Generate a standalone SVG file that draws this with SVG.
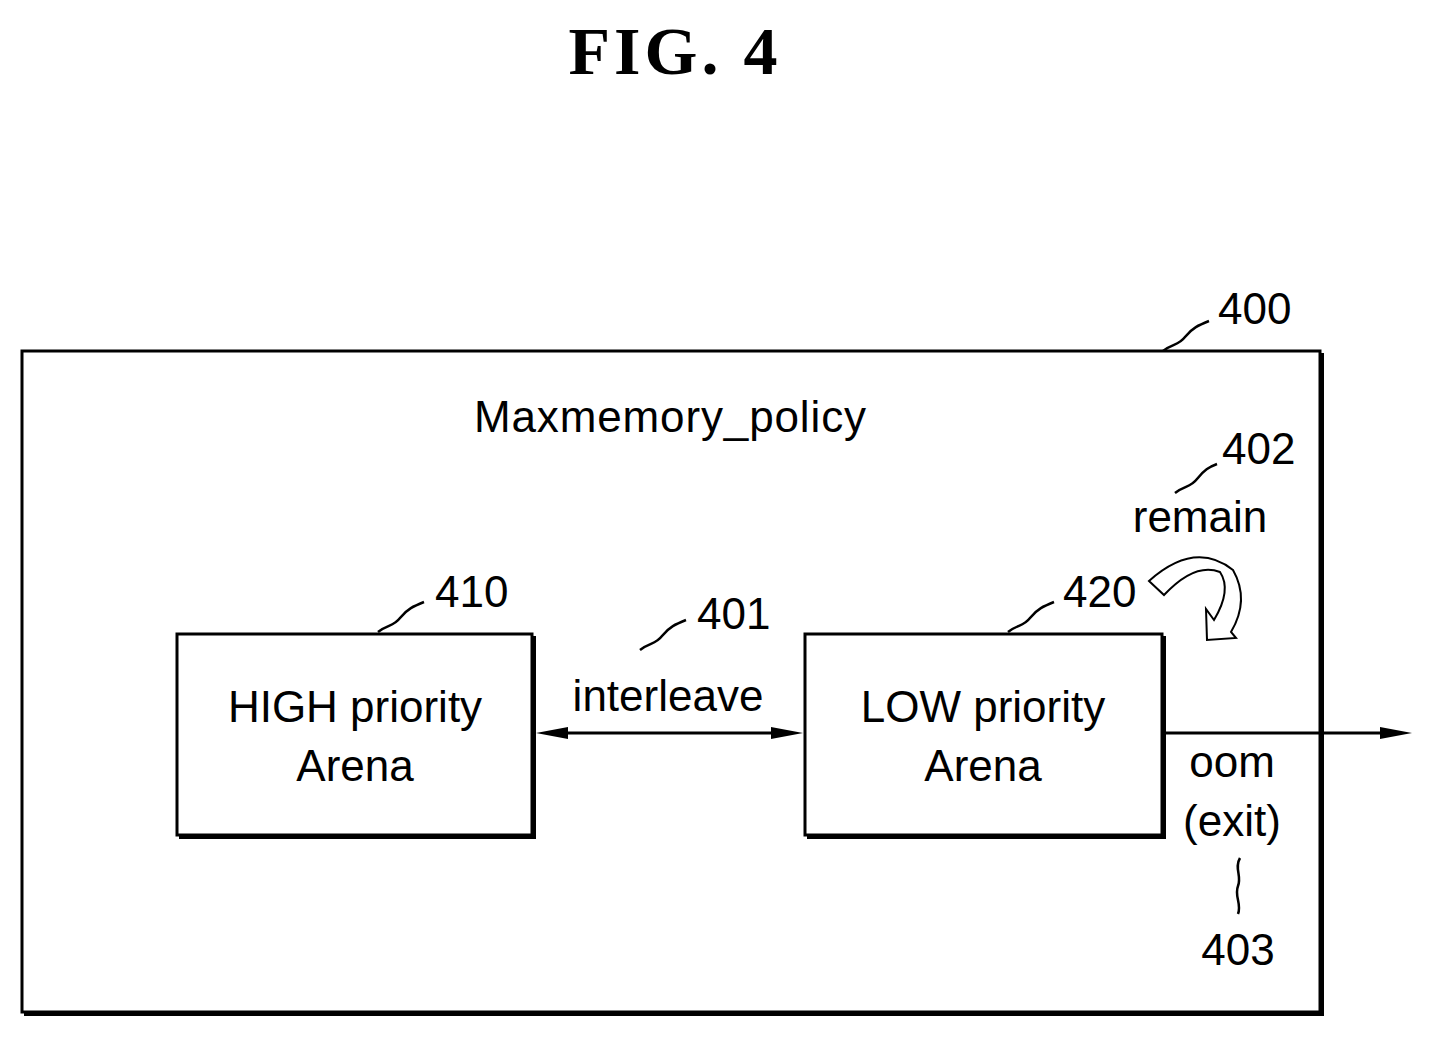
<svg xmlns="http://www.w3.org/2000/svg" width="1433" height="1038" viewBox="0 0 1433 1038">
<style>
.t{font-family:"Liberation Sans",Arial,sans-serif;font-size:44px;fill:#000}
.b{fill:#fff;stroke:#000;stroke-width:3}
.s{fill:none;stroke:#000;stroke-width:4}
.l{fill:none;stroke:#000;stroke-width:2.5}
</style>
<rect width="1433" height="1038" fill="#fff"/>
<text x="675" y="74" text-anchor="middle" style="font-family:'Liberation Serif',serif;font-weight:bold;font-size:68px;letter-spacing:4px">FIG.  4</text>
<g id="n400">
<rect class="b" x="22" y="351" width="1298" height="661"/>
<path class="s" d="M1322,353V1014H24"/>
<text class="t" x="670" y="432" text-anchor="middle" textLength="392">Maxmemory_policy</text>
<text class="t" x="1218" y="324">400</text>
<path class="l" d="M1163,351c10,-8 15,-5 22,-14s14,-12 24,-16"/>
</g>
<g id="n410">
<rect class="b" x="177" y="634" width="355" height="201"/>
<path class="s" d="M534,636V837H179"/>
<text class="t" x="355" y="722" text-anchor="middle">HIGH priority</text>
<text class="t" x="355" y="781" text-anchor="middle">Arena</text>
<text class="t" x="435" y="607">410</text>
<path class="l" d="M378,632c10,-8 15,-5 22,-14s14,-12 24,-16"/>
</g>
<g id="n420">
<rect class="b" x="805" y="634" width="357" height="201"/>
<path class="s" d="M1164,636V837H807"/>
<text class="t" x="983" y="722" text-anchor="middle">LOW priority</text>
<text class="t" x="983" y="781" text-anchor="middle">Arena</text>
<text class="t" x="1063" y="607">420</text>
<path class="l" d="M1008,632c10,-8 15,-5 22,-14s14,-12 24,-16"/>
</g>
<g id="connectors">
<line x1="550" y1="733" x2="790" y2="733" stroke="#000" stroke-width="3"/>
<path d="M536,733L568,727L568,739Z M803,733L771,727L771,739Z"/>
<line x1="1164" y1="733" x2="1395" y2="733" stroke="#000" stroke-width="3"/>
<path d="M1412,733L1380,727L1380,739Z"/>
<text class="t" x="668" y="711" text-anchor="middle">interleave</text>
<text class="t" x="697" y="629">401</text>
<path class="l" d="M640,650c10,-8 15,-5 22,-14s14,-12 24,-16"/>
<text class="t" x="1232" y="777" text-anchor="middle">oom</text>
<text class="t" x="1232" y="836" text-anchor="middle">(exit)</text>
<path class="l" d="M1240,858c-6,10 2,18 -2,28s4,18 0,28"/>
<text class="t" x="1238" y="965" text-anchor="middle">403</text>
<text class="t" x="1200" y="532" text-anchor="middle">remain</text>
<text class="t" x="1222" y="464">402</text>
<path class="l" d="M1175,493c10,-8 15,-5 22,-14s12,-12 20,-15"/>
<path d="M1149,581Q1195,540 1233,570Q1250,600 1231,632L1236,638L1207,640L1206,609L1214,620Q1232,590 1220,572Q1195,562 1164,595Z" fill="#fff" stroke="#000" stroke-width="2"/>
</g>
</svg>
